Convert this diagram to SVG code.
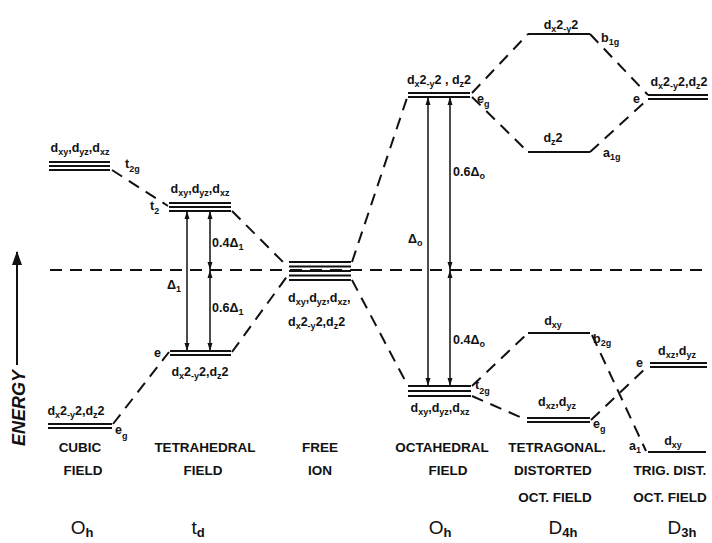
<svg xmlns="http://www.w3.org/2000/svg" width="712" height="543" viewBox="0 0 712 543">
<style>
  .lv{stroke:#111;stroke-width:2;fill:none}
  .dash{stroke:#111;stroke-width:2;stroke-dasharray:12 8;fill:none}
  .arr{stroke:#111;stroke-width:1.5;fill:none;marker-start:url(#ah);marker-end:url(#ah)}
  text{font-family:"Liberation Sans",Arial,sans-serif;font-weight:bold;fill:#111}
  .lb{font-size:12.5px}
  .s{font-size:9px}
  .c{text-anchor:middle}
  .cap{font-size:13.5px;text-anchor:middle}
  .grp{font-size:19px;font-weight:normal;text-anchor:middle}
  .gs{font-size:13px;font-weight:bold}
</style>
<defs>
  <marker id="ah" viewBox="0 0 8 8" refX="8" refY="4" markerWidth="8" markerHeight="8" markerUnits="userSpaceOnUse" orient="auto-start-reverse">
    <path d="M0,1.5 L8,4 L0,6.5 z" fill="#111"/>
  </marker>
  <marker id="big" viewBox="0 0 14 10" refX="13" refY="5" markerWidth="14" markerHeight="10" markerUnits="userSpaceOnUse" orient="auto">
    <path d="M0,0 L14,5 L0,10 z" fill="#111"/>
  </marker>
</defs>
<rect width="712" height="543" fill="#fff"/>

<g id="energy-axis">
  <line x1="17" y1="365" x2="17" y2="252" stroke="#111" stroke-width="2" marker-end="url(#big)"/>
  <text transform="translate(25,408) rotate(-90)" text-anchor="middle" font-size="18" font-style="italic" font-weight="normal">ENERGY</text>
</g>

<g id="connectors">
  <line class="dash" x1="50" y1="270" x2="706" y2="270"/>
  <line class="dash" x1="112" y1="170" x2="168" y2="206"/>
  <line class="dash" x1="113" y1="424" x2="169" y2="352"/>
  <line class="dash" x1="232" y1="211" x2="288" y2="267"/>
  <line class="dash" x1="232" y1="352" x2="288" y2="275"/>
  <line class="dash" x1="352" y1="262" x2="408" y2="95"/>
  <line class="dash" x1="352" y1="280" x2="408" y2="386"/>
  <line class="dash" x1="472" y1="93" x2="528" y2="34"/>
  <line class="dash" x1="472" y1="97" x2="528" y2="152"/>
  <line class="dash" x1="590" y1="34" x2="648" y2="95"/>
  <line class="dash" x1="590" y1="152" x2="648" y2="99"/>
  <line class="dash" x1="472" y1="386" x2="528" y2="333"/>
  <line class="dash" x1="472" y1="396" x2="527" y2="420"/>
  <line class="dash" x1="592" y1="335" x2="646" y2="451"/>
  <line class="dash" x1="591" y1="420" x2="649" y2="365"/>
  <line class="arr" x1="187" y1="211" x2="187" y2="351"/>
  <line class="arr" x1="210" y1="211" x2="210" y2="270"/>
  <line class="arr" x1="210" y1="270" x2="210" y2="351"/>
  <line class="arr" x1="428" y1="97" x2="428" y2="386"/>
  <line class="arr" x1="450" y1="97" x2="450" y2="270"/>
  <line class="arr" x1="450" y1="270" x2="450" y2="386"/>
</g>

<g id="splitting-labels">
  <text class="lb" x="212" y="247">0.4Δ<tspan class="s" dy="3">1</tspan></text>
  <text class="lb" x="212" y="312">0.6Δ<tspan class="s" dy="3">1</tspan></text>
  <text class="lb" x="167" y="289">Δ<tspan class="s" dy="3">1</tspan></text>
  <text class="lb" x="453" y="176">0.6Δ<tspan class="s" dy="3">o</tspan></text>
  <text class="lb" x="453" y="344">0.4Δ<tspan class="s" dy="3">o</tspan></text>
  <text class="lb" x="408" y="243">Δ<tspan class="s" dy="3">o</tspan></text>
</g>

<g id="cubic-t2g">
  <line class="lv" x1="49" y1="162" x2="110" y2="162"/>
  <line class="lv" x1="49" y1="166" x2="110" y2="166"/>
  <line class="lv" x1="49" y1="170" x2="110" y2="170"/>
  <text class="lb c" x="80" y="152">d<tspan class="s" dy="3">xy</tspan><tspan dy="-3">,d</tspan><tspan class="s" dy="3">yz</tspan><tspan dy="-3">,d</tspan><tspan class="s" dy="3">xz</tspan></text>
  <text class="lb" x="125" y="168">t<tspan class="s" dy="4">2g</tspan></text>
</g>

<g id="cubic-eg">
  <line class="lv" x1="48" y1="424" x2="112" y2="424"/>
  <line class="lv" x1="48" y1="428" x2="112" y2="428"/>
  <text class="lb c" x="76" y="415">d<tspan class="s" dy="3">x</tspan><tspan dy="-3">2</tspan><tspan class="s" dy="3">-y</tspan><tspan dy="-3">2,d</tspan><tspan class="s" dy="3">z</tspan><tspan dy="-3">2</tspan></text>
  <text class="lb" x="115" y="434">e<tspan class="s" dy="5">g</tspan></text>
</g>

<g id="td-t2">
  <line class="lv" x1="169" y1="203" x2="231" y2="203"/>
  <line class="lv" x1="169" y1="207" x2="231" y2="207"/>
  <line class="lv" x1="169" y1="211" x2="231" y2="211"/>
  <text class="lb c" x="200" y="193">d<tspan class="s" dy="3">xy</tspan><tspan dy="-3">,d</tspan><tspan class="s" dy="3">yz</tspan><tspan dy="-3">,d</tspan><tspan class="s" dy="3">xz</tspan></text>
  <text class="lb" x="150" y="210">t<tspan class="s" dy="4">2</tspan></text>
</g>

<g id="td-e">
  <line class="lv" x1="170" y1="351" x2="231" y2="351"/>
  <line class="lv" x1="170" y1="355" x2="231" y2="355"/>
  <text class="lb" x="154" y="357">e</text>
  <text class="lb c" x="200" y="376">d<tspan class="s" dy="3">x</tspan><tspan dy="-3">2</tspan><tspan class="s" dy="3">-y</tspan><tspan dy="-3">2,d</tspan><tspan class="s" dy="3">z</tspan><tspan dy="-3">2</tspan></text>
</g>

<g id="free-ion">
  <line class="lv" x1="289" y1="262" x2="351" y2="262"/>
  <line class="lv" x1="289" y1="266.5" x2="351" y2="266.5"/>
  <line class="lv" x1="289" y1="271" x2="351" y2="271"/>
  <line class="lv" x1="289" y1="275.5" x2="351" y2="275.5"/>
  <line class="lv" x1="289" y1="280" x2="351" y2="280"/>
  <text class="lb" x="288" y="302">d<tspan class="s" dy="3">xy</tspan><tspan dy="-3">,d</tspan><tspan class="s" dy="3">yz</tspan><tspan dy="-3">,d</tspan><tspan class="s" dy="3">xz</tspan><tspan dy="-3">,</tspan></text>
  <text class="lb" x="288" y="326">d<tspan class="s" dy="3">x</tspan><tspan dy="-3">2</tspan><tspan class="s" dy="3">-y</tspan><tspan dy="-3">2,d</tspan><tspan class="s" dy="3">z</tspan><tspan dy="-3">2</tspan></text>
</g>

<g id="oh-eg">
  <line class="lv" x1="408" y1="93" x2="470" y2="93"/>
  <line class="lv" x1="408" y1="97" x2="470" y2="97"/>
  <text class="lb c" x="439" y="84">d<tspan class="s" dy="3">x</tspan><tspan dy="-3">2</tspan><tspan class="s" dy="3">-y</tspan><tspan dy="-3">2 , d</tspan><tspan class="s" dy="3">z</tspan><tspan dy="-3">2</tspan></text>
  <text class="lb" x="477" y="103">e<tspan class="s" dy="4">g</tspan></text>
</g>

<g id="oh-t2g">
  <line class="lv" x1="408" y1="386" x2="471" y2="386"/>
  <line class="lv" x1="408" y1="391" x2="471" y2="391"/>
  <line class="lv" x1="408" y1="396" x2="471" y2="396"/>
  <text class="lb c" x="440" y="412">d<tspan class="s" dy="3">xy</tspan><tspan dy="-3">,d</tspan><tspan class="s" dy="3">yz</tspan><tspan dy="-3">,d</tspan><tspan class="s" dy="3">xz</tspan></text>
  <text class="lb" x="475" y="389">t<tspan class="s" dy="5">2g</tspan></text>
</g>

<g id="d4h-b1g">
  <line class="lv" x1="528" y1="34" x2="590" y2="34"/>
  <text class="lb c" x="561" y="29">d<tspan class="s" dy="3">x</tspan><tspan dy="-3">2</tspan><tspan class="s" dy="3">-y</tspan><tspan dy="-3">2</tspan></text>
  <text class="lb" x="601" y="42">b<tspan class="s" dy="3">1g</tspan></text>
</g>

<g id="d4h-a1g">
  <line class="lv" x1="528" y1="152" x2="590" y2="152"/>
  <text class="lb c" x="553" y="142">d<tspan class="s" dy="3">z</tspan><tspan dy="-3">2</tspan></text>
  <text class="lb" x="603" y="157">a<tspan class="s" dy="3">1g</tspan></text>
</g>

<g id="d4h-b2g">
  <line class="lv" x1="528" y1="333" x2="590" y2="333"/>
  <text class="lb c" x="553" y="325">d<tspan class="s" dy="3">xy</tspan></text>
  <text class="lb" x="593" y="343">b<tspan class="s" dy="3">2g</tspan></text>
</g>

<g id="d4h-eg">
  <line class="lv" x1="527" y1="418" x2="590" y2="418"/>
  <line class="lv" x1="527" y1="422" x2="590" y2="422"/>
  <text class="lb c" x="557" y="406">d<tspan class="s" dy="3">xz</tspan><tspan dy="-3">,d</tspan><tspan class="s" dy="3">yz</tspan></text>
  <text class="lb" x="593" y="428">e<tspan class="s" dy="4">g</tspan></text>
</g>

<g id="d3h-e-upper">
  <line class="lv" x1="648" y1="95" x2="708" y2="95"/>
  <line class="lv" x1="648" y1="99" x2="708" y2="99"/>
  <text class="lb c" x="679" y="86">d<tspan class="s" dy="3">x</tspan><tspan dy="-3">2</tspan><tspan class="s" dy="3">-y</tspan><tspan dy="-3">2,d</tspan><tspan class="s" dy="3">z</tspan><tspan dy="-3">2</tspan></text>
  <text class="lb" x="633" y="103">e</text>
</g>

<g id="d3h-e-lower">
  <line class="lv" x1="650" y1="363" x2="707" y2="363"/>
  <line class="lv" x1="650" y1="367" x2="707" y2="367"/>
  <text class="lb c" x="677" y="355">d<tspan class="s" dy="3">xz</tspan><tspan dy="-3">,d</tspan><tspan class="s" dy="3">yz</tspan></text>
  <text class="lb" x="636" y="367">e</text>
</g>

<g id="d3h-a1">
  <line class="lv" x1="648" y1="452" x2="706" y2="452"/>
  <text class="lb c" x="673" y="445">d<tspan class="s" dy="3">xy</tspan></text>
  <text class="lb" x="629" y="450">a<tspan class="s" dy="3">1</tspan></text>
</g>

<g id="captions">
  <text class="cap" x="80" y="452">CUBIC</text>
  <text class="cap" x="83" y="475">FIELD</text>
  <text class="cap" x="205" y="452">TETRAHEDRAL</text>
  <text class="cap" x="203" y="475">FIELD</text>
  <text class="cap" x="320" y="452">FREE</text>
  <text class="cap" x="320" y="475">ION</text>
  <text class="cap" x="442" y="452">OCTAHEDRAL</text>
  <text class="cap" x="448" y="475">FIELD</text>
  <text class="cap" x="557" y="452">TETRAGONAL.</text>
  <text class="cap" x="553" y="475">DISTORTED</text>
  <text class="cap" x="555" y="502">OCT.  FIELD</text>
  <text class="cap" x="670" y="475">TRIG. DIST.</text>
  <text class="cap" x="670" y="502">OCT. FIELD</text>
</g>

<g id="point-groups">
  <text class="grp" x="82" y="534">O<tspan class="gs" dy="3">h</tspan></text>
  <text class="grp" x="198" y="534">t<tspan class="gs" dy="3">d</tspan></text>
  <text class="grp" x="440" y="534">O<tspan class="gs" dy="3">h</tspan></text>
  <text class="grp" x="563" y="534">D<tspan class="gs" dy="3">4h</tspan></text>
  <text class="grp" x="682" y="534">D<tspan class="gs" dy="3">3h</tspan></text>
</g>
</svg>
